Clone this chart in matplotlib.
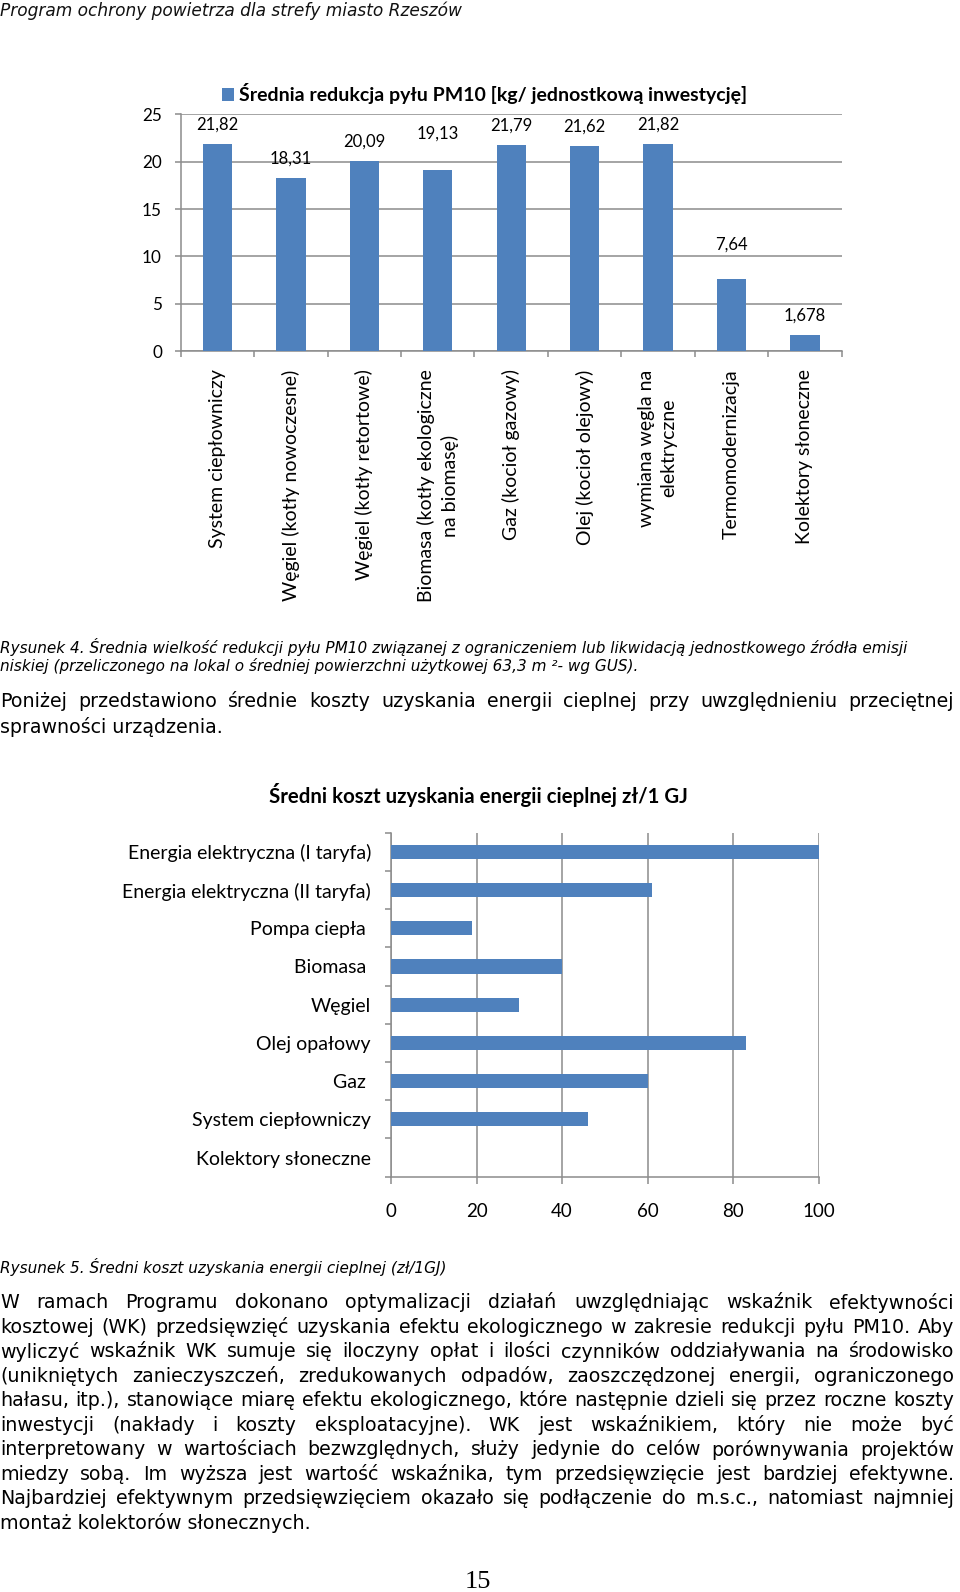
import matplotlib
matplotlib.use("Agg")
import matplotlib.pyplot as plt
from matplotlib.font_manager import FontProperties
from matplotlib.ticker import FixedLocator, NullFormatter
import numpy as np

# ---------------- data ----------------
pm10_categories = [
    "System ciepłowniczy",
    "Węgiel (kotły nowoczesne)",
    "Węgiel (kotły retortowe)",
    "Biomasa (kotły ekologiczne\nna biomasę)",
    "Gaz (kocioł gazowy)",
    "Olej (kocioł olejowy)",
    "wymiana węgla na\nelektryczne",
    "Termomodernizacja",
    "Kolektory słoneczne",
]
pm10_values = [21.82, 18.31, 20.09, 19.13, 21.79, 21.62, 21.82, 7.64, 1.678]
pm10_series = "Średnia redukcja pyłu PM10 [kg/ jednostkową inwestycję]"
pm10_yticks = [0, 5, 10, 15, 20, 25]

cost_categories = [
    "Energia elektryczna (I taryfa)",
    "Energia elektryczna (II taryfa)",
    "Pompa ciepła ",
    "Biomasa ",
    "Węgiel",
    "Olej opałowy",
    "Gaz ",
    "System ciepłowniczy",
    "Kolektory słoneczne",
]
cost_values = [100, 61, 19, 40, 30, 83, 60, 46, 0]
cost_title = "Średni koszt uzyskania energii cieplnej zł/1 GJ"
cost_xticks = [0, 20, 40, 60, 80, 100]

header = "Program ochrony powietrza dla strefy miasto Rzeszów"
caption4 = [
    "Rysunek 4. Średnia wielkość redukcji pyłu PM10 związanej z ograniczeniem lub likwidacją jednostkowego źródła emisji",
    "niskiej (przeliczonego na lokal o średniej powierzchni użytkowej 63,3 m ²- wg GUS).",
]
para1 = [
    "Poniżej przedstawiono średnie koszty uzyskania energii cieplnej przy uwzględnieniu przeciętnej",
    "sprawności urządzenia.",
]
caption5 = "Rysunek 5. Średni koszt uzyskania energii cieplnej (zł/1GJ)"
para2 = [
    "W ramach Programu dokonano optymalizacji działań uwzględniając wskaźnik efektywności",
    "kosztowej (WK) przedsięwzięć uzyskania efektu ekologicznego w zakresie redukcji pyłu PM10. Aby",
    "wyliczyć wskaźnik WK sumuje się iloczyny opłat i ilości czynników oddziaływania na środowisko",
    "(unikniętych zanieczyszczeń, zredukowanych odpadów, zaoszczędzonej energii, ograniczonego",
    "hałasu, itp.), stanowiące miarę efektu ekologicznego, które następnie dzieli się przez roczne koszty",
    "inwestycji (nakłady i koszty eksploatacyjne). WK jest wskaźnikiem, który nie może być",
    "interpretowany w wartościach bezwzględnych, służy jedynie do celów porównywania projektów",
    "miedzy sobą. Im wyższa jest wartość wskaźnika, tym przedsięwzięcie jest bardziej efektywne.",
    "Najbardziej efektywnym przedsięwzięciem okazało się podłączenie do m.s.c., natomiast najmniej",
    "montaż kolektorów słonecznych.",
]
page_number = "15"

# ---------------- style ----------------
W, H = 960, 1592
BAR = "#4F81BD"
GRID = "#8c8c8c"
CHART_FONT = ["Lato", "DejaVu Sans"]
BODY_FONT = ["DejaVu Sans"]

plt.rcParams["font.family"] = CHART_FONT
fig = plt.figure(figsize=(W / 100, H / 100), dpi=100)
renderer = fig.canvas.get_renderer()


def fx(px):
    return px / W


def fy(py):
    return 1 - py / H


def text_w(s, prop):
    return renderer.get_text_width_height_descent(s, prop, ismath=False)[0]


def fitted_size(texts, target_px, **kw):
    p = FontProperties(size=10, **kw)
    return 10 * target_px / max(text_w(t, p) for t in texts)


def justified(lines, x0, x1, y0, dy, prop, justify_last=False):
    for i, line in enumerate(lines):
        y = y0 + i * dy
        words = line.split(" ")
        last = i == len(lines) - 1
        if (last and not justify_last) or len(words) == 1:
            fig.text(fx(x0), fy(y), line, fontproperties=prop,
                     ha="left", va="center_baseline")
            continue
        widths = [text_w(w, prop) for w in words]
        gap = (x1 - x0 - sum(widths)) / (len(words) - 1)
        x = x0
        for w, wd in zip(words, widths):
            fig.text(fx(x), fy(y), w, fontproperties=prop,
                     ha="left", va="center_baseline")
            x += wd + gap


# ---------------- header ----------------
hdr_size = fitted_size([header], 462, family=BODY_FONT, style="italic")
fig.text(fx(0), fy(9), header, fontsize=hdr_size, style="italic",
         family=BODY_FONT, ha="left", va="center_baseline", color="#111111")

# ---------------- chart 1 ----------------
ax1_l, ax1_r, ax1_t, ax1_b = 180.7, 841.7, 114.3, 351.3
ax1 = fig.add_axes([fx(ax1_l), fy(ax1_b), (ax1_r - ax1_l) / W, (ax1_b - ax1_t) / H])
x1 = np.arange(len(pm10_values))
bars = ax1.bar(x1, pm10_values, width=0.4, color=BAR, label=pm10_series, zorder=3)
ax1.set_xlim(-0.5, len(pm10_values) - 0.5)
ax1.set_ylim(0, 25)
ax1.set_yticks(pm10_yticks)
ax1.set_yticklabels([str(t) for t in pm10_yticks], fontsize=12.3)
ax1.yaxis.grid(True, color=GRID, linewidth=1.1, zorder=0)
ax1.set_xticks(x1)
ax1.set_xticklabels(pm10_categories, rotation=90, fontsize=14, va="top",
                    ha="center", multialignment="center", linespacing=1.37)
ax1.xaxis.set_minor_locator(FixedLocator(np.arange(len(pm10_values) + 1) - 0.5))
ax1.xaxis.set_minor_formatter(NullFormatter())
ax1.tick_params(axis="x", which="major", length=0, pad=13)
ax1.tick_params(axis="x", which="minor", length=4, width=1.1, color=GRID)
ax1.tick_params(axis="y", which="major", length=4, width=1.1, color=GRID, pad=9.5)
for s in ["top", "right"]:
    ax1.spines[s].set_visible(False)
for s in ["left", "bottom"]:
    ax1.spines[s].set_color(GRID)
    ax1.spines[s].set_linewidth(1.1)
label_offsets = [15, 15, 15, 27.4, 15, 15, 15, 25.6, 15]
for xi, v, off in zip(x1, pm10_values, label_offsets):
    ax1.annotate(str(v).replace(".", ","), xy=(xi, v), xytext=(0, off),
                 textcoords="offset points", ha="center", va="center_baseline",
                 fontsize=12)
leg = ax1.legend(loc="center left", bbox_to_anchor=(fx(222), fy(94)),
                 bbox_transform=fig.transFigure, frameon=False, borderpad=0,
                 borderaxespad=0, handlelength=0.6, handleheight=0.6,
                 handletextpad=0.25, prop={"family": CHART_FONT, "weight": "bold",
                                           "size": 14})

# ---------------- caption 4 + paragraph 1 ----------------
cap_size = fitted_size([caption4[0]], 905, family=BODY_FONT, style="italic")
cap_prop = FontProperties(family=BODY_FONT, style="italic", size=cap_size)
fig.text(fx(0), fy(646), caption4[0], fontproperties=cap_prop, ha="left", va="center_baseline")
fig.text(fx(0), fy(665), caption4[1], fontproperties=cap_prop, ha="left", va="center_baseline")

body_size = fitted_size(para2[:-1], 944, family=BODY_FONT)
body_prop = FontProperties(family=BODY_FONT, size=body_size)
justified(para1, 0, 954, 700, 24.6, body_prop)

# ---------------- chart 2 ----------------
fig.text(fx(478), fy(792.5), cost_title, fontsize=14.7, fontweight="bold",
         ha="center", va="center_baseline")
ax2_l, ax2_r, ax2_t, ax2_b = 391, 818.5, 832.7, 1176.7
ax2 = fig.add_axes([fx(ax2_l), fy(ax2_b), (ax2_r - ax2_l) / W, (ax2_b - ax2_t) / H])
y2 = np.arange(len(cost_values))
ax2.barh(y2, cost_values, height=0.37, color=BAR, zorder=3)
ax2.set_ylim(len(cost_values) - 0.5, -0.5)
ax2.set_xlim(0, 100)
ax2.set_xticks(cost_xticks)
ax2.set_xticklabels([str(t) for t in cost_xticks], fontsize=13.5)
ax2.xaxis.grid(True, color=GRID, linewidth=1.1, zorder=0)
ax2.set_yticks(y2)
ax2.set_yticklabels(cost_categories, fontsize=14)
ax2.yaxis.set_minor_locator(FixedLocator(np.arange(len(cost_values) + 1) - 0.5))
ax2.yaxis.set_minor_formatter(NullFormatter())
ax2.tick_params(axis="y", which="major", length=0, pad=14.4)
ax2.tick_params(axis="y", which="minor", length=4.5, width=1.1, color=GRID)
ax2.tick_params(axis="x", which="major", length=4.7, width=1.1, color=GRID, pad=14)
for s in ["top", "right"]:
    ax2.spines[s].set_visible(False)
for s in ["left", "bottom"]:
    ax2.spines[s].set_color(GRID)
    ax2.spines[s].set_linewidth(1.1)

# ---------------- caption 5 + paragraph 2 ----------------
fig.text(fx(0), fy(1266), caption5, fontproperties=cap_prop, ha="left", va="center_baseline")
justified(para2, 0, 954, 1301, 24.45, body_prop)

fig.text(fx(478), fy(1579), page_number, fontsize=19, family=["Liberation Serif"],
         ha="center", va="center_baseline")

fig.savefig("out.png", dpi=100, facecolor="white")
